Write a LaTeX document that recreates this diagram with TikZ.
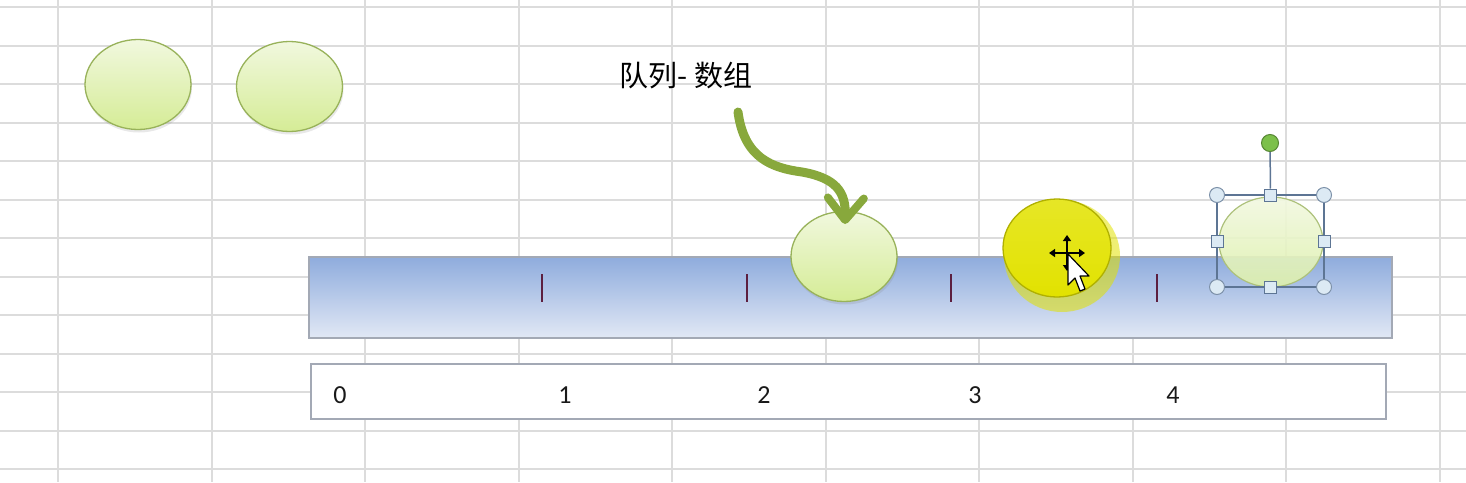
\documentclass[tikz,border=0pt]{standalone}
\usepackage{fontspec}
\setmainfont{Carlito}
\newfontfamily\cjk{Noto Sans CJK SC}
\usetikzlibrary{shapes.geometric,shadows,arrows.meta}
\definecolor{gridc}{HTML}{DCDCDC}
\definecolor{elltop}{HTML}{F1F8DE}
\definecolor{ellbot}{HTML}{D5EC96}
\definecolor{ellborder}{HTML}{98B25A}
\definecolor{bartop}{HTML}{8FACDD}
\definecolor{barbot}{HTML}{E1E8F5}
\definecolor{barborder}{HTML}{A3A9B5}
\definecolor{tickc}{HTML}{5C1F3F}
\definecolor{arrowc}{HTML}{88A83C}
\definecolor{yel}{HTML}{E2E200}
\definecolor{yelborder}{HTML}{B0B000}
\definecolor{selc}{HTML}{5D7594}
\definecolor{handlefill}{HTML}{DCEAF4}
\definecolor{rotc}{HTML}{7CC04A}
\begin{document}
\begin{tikzpicture}[x=1pt,y=-1pt,
  gridline/.style={draw=gridc,line width=2pt},
  ball/.style={ellipse,draw=ellborder,line width=1.3pt,top color=elltop,bottom color=ellbot,
    minimum width=106pt,minimum height=90pt,inner sep=0pt,
    drop shadow={opacity=0.18,shadow xshift=1pt,shadow yshift=-3pt}},
  tickmark/.style={draw=tickc,line width=2.4pt},
  numlabel/.style={font=\fontsize{26}{26}\selectfont,text=black!90,inner sep=0pt},
  cornerhandle/.style={circle,draw=selc!80,line width=1pt,fill=handlefill,minimum size=15pt,inner sep=0pt},
  sidehandle/.style={rectangle,draw=selc,line width=1pt,fill=handlefill,minimum size=12pt,inner sep=0pt},
  selline/.style={draw=selc,line width=1.5pt}]
% background
\fill[white] (0,0) rectangle (1466,482);
\useasboundingbox (0,0) rectangle (1466,482);
% grid
\foreach \gx in {58,211.5,365,518.5,672,825.5,979,1132.5,1286,1440}
  \draw[gridline] (\gx,0) -- (\gx,482);
\foreach \gy in {7,45.5,84,122.5,161,199.5,238,276.5,315,353.5,392,430.5,469}
  \draw[gridline] (0,\gy) -- (1466,\gy);
% top-left balls
\node[ball] (e1) at (138,84.5) {};
\node[ball] (e2) at (289.5,86.5) {};
% title
\node[font=\cjk\fontsize{29}{29}\selectfont,inner sep=0pt] (title) at (686,76) {队列- 数组};
% bar
\node[draw=barborder,line width=1.3pt,top color=bartop,bottom color=barbot,
  minimum width=1083pt,minimum height=81pt,inner sep=0pt] (bar) at (850.5,297.5) {};
\foreach \tx in {542,747,951,1157}
  \draw[tickmark] (\tx,274) -- (\tx,302);
% numbers box
\node[draw=barborder,line width=1.3pt,fill=white,minimum width=1075pt,minimum height=55pt,inner sep=0pt] (nums) at (848.5,391.5) {};
\node[numlabel] (n0) at (340,395) {0};
\node[numlabel] (n1) at (565,395) {1};
\node[numlabel] (n2) at (764,395) {2};
\node[numlabel] (n3) at (975,395) {3};
\node[numlabel] (n4) at (1173,395) {4};
% middle ball
\node[ball] (e3) at (844,256.5) {};
% curved arrow
\coordinate (as) at (738,112);
\coordinate (ae) at (845,224);
\draw[arrowc,line width=9pt,line cap=round,line join=round,
  -{Straight Barb[length=22pt,width=36pt,line width=8pt,round]}]
  (as) .. controls (744,158) and (772,168) .. (802,172)
       .. controls (836,178) and (846,192) .. (ae);
% yellow ball with glow
\fill[yel,opacity=0.55] (1062,256) ellipse [x radius=58pt,y radius=56pt];
\node[ellipse,draw=yelborder,line width=1.3pt,top color=yel!85!white,bottom color=yel,
  minimum width=108pt,minimum height=98pt,inner sep=0pt] (e4) at (1057,248) {};
% selected ball
\node[ellipse,draw=ellborder!80,line width=1.2pt,top color=elltop!90!white,bottom color=ellbot!80!white,
  fill opacity=0.9,minimum width=104pt,minimum height=90pt,inner sep=0pt] (e5) at (1271,242) {};
% selection frame
\coordinate (sTL) at (1217,195);
\coordinate (sTR) at (1324,195);
\coordinate (sBL) at (1217,287);
\coordinate (sBR) at (1324,287);
\draw[selline] (sTL) rectangle (sBR);
\node[circle,draw=rotc!70!black,line width=1pt,fill=rotc,minimum size=17pt,inner sep=0pt] (rot) at (1270,143) {};
\node[sidehandle] (hT) at (1270.5,195) {};
\draw[selline] (rot) -- (hT);
\node[sidehandle] (hB) at (1270.5,287) {};
\node[sidehandle] (hL) at (1217,241) {};
\node[sidehandle] (hR) at (1324,241) {};
\node[cornerhandle] (cTL) at (sTL) {};
\node[cornerhandle] (cTR) at (sTR) {};
\node[cornerhandle] (cBL) at (sBL) {};
\node[cornerhandle] (cBR) at (sBR) {};
% move cursor
\coordinate (mc) at (1067,253);
\draw[black,line width=2pt,{Triangle[length=6pt,width=8pt]}-{Triangle[length=6pt,width=8pt]}] (1049,253) -- (1085,253);
\draw[black,line width=2pt,{Triangle[length=6pt,width=8pt]}-{Triangle[length=6pt,width=8pt]}] (1067,235) -- (1067,271);
% pointer
\draw[black,line width=1.2pt,fill=white,line join=round]
  (1068,254) -- (1068,285) -- (1075,278) -- (1080,291) -- (1085,289) -- (1080,276) -- (1089,276) -- cycle;
\end{tikzpicture}
\end{document}
